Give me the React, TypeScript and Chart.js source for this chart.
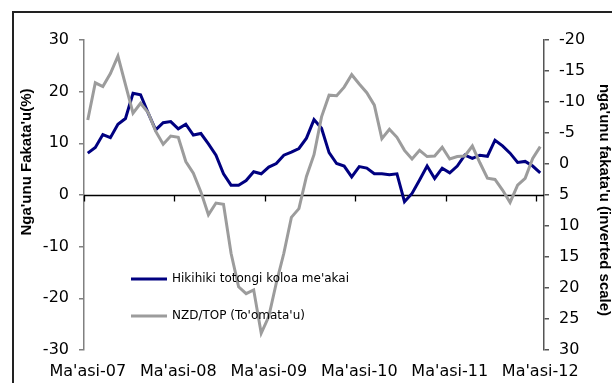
import React, { useEffect, useRef } from "react";
import { Chart, registerables } from "chart.js";

Chart.register(...registerables);

// Tongan month names; the series runs monthly from Ma'asi 2007 to Ma'asi 2012
const MONTHS = ["Sānuali", "Fēpueli", "Ma'asi", "'Epeleli", "Mē", "Sune", "Siulai", "'Aokosi", "Sepitema", "'Okatopa", "Nōvema", "Tīsema"];
const START_YEAR = 2007;
const START_MONTH = 2;
const N_MONTHS = 61;
const categories: string[] = Array.from({ length: N_MONTHS }, (_, i) => {
  const m = (START_MONTH + i) % 12;
  const yr = START_YEAR + Math.floor((START_MONTH + i) / 12);
  return `${MONTHS[m]}-${String(yr % 100).padStart(2, "0")}`;
});

// Food price inflation, % (left axis)
const foodInflation = [
  8.1, 9.2, 11.7, 11.1, 13.7, 14.8, 19.7, 19.4, 15.9, 12.6,
  14.0, 14.2, 12.8, 13.7, 11.6, 11.9, 9.9, 7.7, 4.1, 1.9,
  1.9, 2.8, 4.5, 4.1, 5.4, 6.1, 7.7, 8.3, 9.0, 11.0,
  14.6, 12.9, 8.2, 6.1, 5.6, 3.5, 5.5, 5.2, 4.1, 4.1,
  3.9, 4.1, -1.3, 0.3, 2.9, 5.6, 3.2, 5.2, 4.3, 5.6,
  7.7, 7.1, 7.7, 7.5, 10.6, 9.5, 8.1, 6.3, 6.5, 5.6,
  4.3,
];

// NZD/TOP annual change, % (right axis, inverted)
const nzdTop = [
  -7.1, -13.1, -12.5, -14.6, -17.4, -12.8, -8.2, -9.8, -8.3, -5.3,
  -3.2, -4.5, -4.3, -0.4, 1.5, 4.5, 8.2, 6.3, 6.5, 14.4,
  19.8, 20.9, 20.3, 27.3, 24.6, 19.2, 14.4, 8.6, 7.2, 2.0,
  -1.5, -7.6, -11.1, -11.0, -12.4, -14.4, -12.9, -11.5, -9.5, -4.1,
  -5.6, -4.3, -2.2, -0.8, -2.2, -1.2, -1.3, -2.7, -0.8, -1.2,
  -1.3, -2.9, -0.2, 2.3, 2.5, 4.2, 6.2, 3.4, 2.3, -0.9,
  -2.8,
];

const SERIES_NAMES = ["Hikihiki totongi koloa me'akai", "NZD/TOP (To'omata'u)"];
const LEFT_TITLE = "Nga'unu Fakata'u(%)";
const RIGHT_TITLE = "nga'unu fakata'u (inverted scale)";
const LABEL_EVERY = 12;

const BLUE = "#000080";
const GRAY = "#9c9c9c";
const TICK_FONT = { family: "'DejaVu Sans', sans-serif", size: 16 };

const decorPlugin = {
  id: "decor",
  beforeDraw(chart: any) {
    const { ctx, width, height } = chart;
    ctx.save();
    ctx.fillStyle = "#ffffff";
    ctx.fillRect(0, 0, width, height);
    ctx.strokeStyle = "#222222";
    ctx.lineWidth = 2;
    ctx.beginPath();
    ctx.moveTo(13, height + 2);
    ctx.lineTo(13, 12);
    ctx.lineTo(width + 2, 12);
    ctx.stroke();
    ctx.restore();
  },
  beforeDatasetsDraw(chart: any) {
    const { ctx, chartArea } = chart;
    const x = chart.scales.x;
    const y = chart.scales.y;
    const y0 = Math.round(y.getPixelForValue(0)) + 0.5;
    ctx.save();
    ctx.strokeStyle = "#000000";
    ctx.lineWidth = 1.3;
    ctx.beginPath();
    ctx.moveTo(chartArea.left, y0);
    ctx.lineTo(chartArea.right, y0);
    for (let i = 0; i < categories.length; i += LABEL_EVERY) {
      const px = Math.round(x.getPixelForValue(i - 0.5)) + 0.5;
      ctx.moveTo(px, y0);
      ctx.lineTo(px, y0 + 6);
    }
    ctx.stroke();
    ctx.restore();
  },
  afterDraw(chart: any) {
    const { ctx, chartArea } = chart;
    ctx.save();
    // axis titles
    ctx.fillStyle = "#000000";
    ctx.font = "bold 15px 'Liberation Sans', Arial, sans-serif";
    ctx.textAlign = "center";
    ctx.textBaseline = "middle";
    ctx.save();
    ctx.translate(chartArea.left - 57, chartArea.top + 122);
    ctx.rotate(-Math.PI / 2);
    ctx.fillText(LEFT_TITLE, 0, 0);
    ctx.restore();
    ctx.save();
    ctx.translate(chartArea.right + 60, chartArea.top + 160);
    ctx.rotate(Math.PI / 2);
    ctx.fillText(RIGHT_TITLE, 0, 0);
    ctx.restore();

    // legend inside the plot
    const colors = [BLUE, GRAY];
    const lx = chartArea.left + 47;
    const ly = [chartArea.top + 239, chartArea.top + 276];
    ctx.font = "12px 'DejaVu Sans', sans-serif";
    ctx.textAlign = "left";
    SERIES_NAMES.forEach((name, k) => {
      ctx.strokeStyle = colors[k];
      ctx.lineWidth = 3;
      ctx.beginPath();
      ctx.moveTo(lx, ly[k]);
      ctx.lineTo(lx + 36, ly[k]);
      ctx.stroke();
      ctx.fillStyle = "#000000";
      ctx.fillText(name, lx + 41, ly[k]);
    });
    ctx.restore();
  },
};

export default function App() {
  const canvasRef = useRef<HTMLCanvasElement | null>(null);

  useEffect(() => {
    if (!canvasRef.current) return;
    const chart = new Chart(canvasRef.current, {
      type: "line",
      data: {
        labels: categories,
        datasets: [
          {
            label: SERIES_NAMES[0],
            data: foodInflation,
            yAxisID: "y",
            borderColor: BLUE,
            backgroundColor: BLUE,
            borderWidth: 3,
            pointRadius: 0,
            tension: 0,
            order: 1,
          },
          {
            label: SERIES_NAMES[1],
            data: nzdTop,
            yAxisID: "y1",
            borderColor: GRAY,
            backgroundColor: GRAY,
            borderWidth: 3,
            pointRadius: 0,
            tension: 0,
            order: 0,
          },
        ],
      },
      options: {
        animation: false,
        responsive: true,
        maintainAspectRatio: false,
        layout: { padding: { left: 0, right: 0, top: 40, bottom: 0 } },
        plugins: { legend: { display: false }, tooltip: { enabled: false } },
        scales: {
          x: {
            type: "category",
            offset: true,
            grid: { display: false, drawTicks: false, offset: true },
            border: { display: false },
            ticks: {
              autoSkip: false,
              maxRotation: 0,
              minRotation: 0,
              padding: 12,
              color: "#000000",
              font: TICK_FONT,
              callback: (_v: any, idx: number) => (idx % LABEL_EVERY === 0 ? categories[idx] : null),
            },
            afterFit: (s: any) => {
              s.height = 33;
            },
          },
          y: {
            position: "left",
            min: -30,
            max: 30,
            grid: { drawOnChartArea: false, drawTicks: true, tickLength: 5, color: "#808080", lineWidth: 1.5 },
            border: { display: true, color: "#808080", width: 1.5 },
            ticks: { stepSize: 10, padding: 10, color: "#000000", font: TICK_FONT },
            afterFit: (s: any) => {
              s.width = 84;
            },
          },
          y1: {
            position: "right",
            min: -20,
            max: 30,
            reverse: true,
            grid: { drawOnChartArea: false, drawTicks: true, tickLength: 5, color: "#555555", lineWidth: 1.5 },
            border: { display: true, color: "#555555", width: 1.5 },
            ticks: { stepSize: 5, padding: 10, color: "#000000", font: TICK_FONT },
            afterFit: (s: any) => {
              s.width = 68;
            },
          },
        },
      },
      plugins: [decorPlugin],
    });
    return () => chart.destroy();
  }, []);

  return (
    <div style={{ position: "absolute", left: 0, top: 0, width: 612, height: 383 }}>
      <canvas ref={canvasRef} />
    </div>
  );
}
